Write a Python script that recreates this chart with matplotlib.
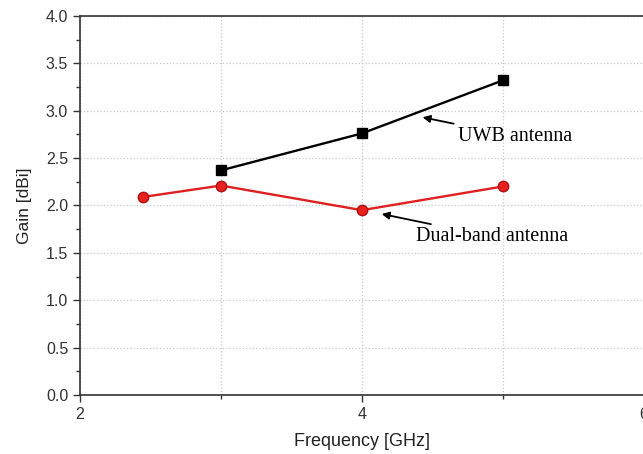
import matplotlib
matplotlib.use("Agg")
import matplotlib.pyplot as plt
from matplotlib.ticker import MultipleLocator

uwb_freq = [3, 4, 5]
uwb_gain = [2.37, 2.76, 3.32]
dual_freq = [2.45, 3, 4, 5]
dual_gain = [2.09, 2.21, 1.95, 2.20]

plt.rcParams["font.family"] = ["Liberation Sans", "DejaVu Sans"]

fig = plt.figure(figsize=(6.43, 4.54), dpi=100)
ax = fig.add_axes([0.1244, 0.130, 0.877, 0.835])

ax.plot(uwb_freq, uwb_gain, color="black", lw=1.7, marker="s", ms=6.5,
        mfc="black", mec="black", zorder=3)
ax.plot(dual_freq, dual_gain, color="#e02020", lw=1.7, marker="o", ms=7.5,
        mfc="#e82020", mec="#b01010", zorder=3)

ax.set_xlim(2, 6)
ax.set_ylim(0, 4)
ax.xaxis.set_major_locator(MultipleLocator(2))
ax.xaxis.set_minor_locator(MultipleLocator(1))
ax.yaxis.set_major_locator(MultipleLocator(0.5))
ax.yaxis.set_minor_locator(MultipleLocator(0.25))
ax.yaxis.set_major_formatter(matplotlib.ticker.FormatStrFormatter("%.1f"))

ax.grid(True, which="major", axis="y", ls=":", color="#c8c8c8", lw=0.9)
ax.grid(True, which="both", axis="x", ls=":", color="#c8c8c8", lw=0.9)

ax.tick_params(which="major", direction="out", length=5, width=1, labelsize=11.5, colors="#333333")
ax.tick_params(which="minor", direction="out", length=3, width=1, colors="#333333")
for s in ax.spines.values():
    s.set_color("#333333")
    s.set_linewidth(1.2)

ax.set_xlabel("Frequency [GHz]", fontsize=13, color="#222222", labelpad=8)
ax.set_ylabel("Gain [dBi]", fontsize=12.5, color="#222222", labelpad=10)

ax.annotate("UWB antenna", xy=(4.43, 2.93), xytext=(4.68, 2.73),
            fontsize=14.5, family="Liberation Serif", va="center",
            arrowprops=dict(arrowstyle="-|>", color="black", lw=1.3, mutation_scale=11, shrinkA=1, shrinkB=0))
ax.annotate("Dual-band antenna", xy=(4.14, 1.91), xytext=(4.38, 1.67),
            fontsize=14.5, family="Liberation Serif", va="center",
            arrowprops=dict(arrowstyle="-|>", color="black", lw=1.3, mutation_scale=11, shrinkA=1, shrinkB=0))

fig.savefig("out.png", dpi=100)
